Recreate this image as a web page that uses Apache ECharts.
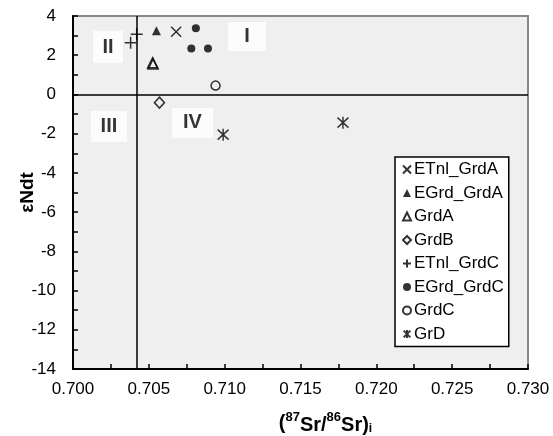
<!DOCTYPE html>
<html>
<head>
<meta charset="utf-8">
<script src="https://cdn.jsdelivr.net/npm/echarts@6/dist/echarts.min.js"></script>
<style>
  html, body { margin: 0; padding: 0; background: #fff; }
  #chart { width: 553px; height: 436px; }
</style>
</head>
<body>
<div id="chart"></div>
<script>
// data: [87Sr/86Sr initial, eNd(t)]
var etnlGrdA = [[0.7068, 3.2]];
var egrdGrdA = [[0.7055, 3.25]];
var grdA = [[0.70525, 1.62], [0.70528, 1.55]];
var grdB = [[0.7057, -0.42]];
var etnlGrdC = [[0.7042, 3.07], [0.7038, 2.64]];
var egrdGrdC = [[0.7081, 3.38], [0.7078, 2.34], [0.7089, 2.34]];
var grdC = [[0.7094, 0.45]];
var grD = [[0.7099, -2.05], [0.7178, -1.44]];

// quadrant labels
var quadNames = ['I', 'II', 'III', 'IV'];
var quadPos = [[0.71148, 2.96], [0.70231, 2.42], [0.70237, -1.63], [0.70788, -1.45]];

// axis ranges and reference lines
var xRange = [0.7, 0.73];
var yRange = [-14, 4];
var srLine = 0.7042;
var ndLine = 0;

var FONT = "'Liberation Sans', Arial, sans-serif";

// white boxes behind the quadrant numerals [w, h]
var quadBox = [[38, 29], [30, 32], [36, 31], [41, 30]];

var crossPath = 'path://M0,0L10,10M10,0L0,10';
var plusPath = 'path://M5,0L5,10M0,5L10,5';
var starPath = 'path://M0,0L10,10M10,0L0,10M5,-1L5,11';

function openStyle() {
  return { color: 'rgba(0,0,0,0)', borderColor: '#000', borderWidth: 1.5 };
}

var myChart = echarts.init(document.getElementById('chart'));

var option = {
  animation: false,
  backgroundColor: '#fff',
  textStyle: { fontFamily: FONT },
  grid: {
    left: 73, right: 25, top: 16, bottom: 67,
    containLabel: false,
    outerBoundsMode: 'none',
    show: true,
    backgroundColor: '#efefef',
    borderColor: '#888',
    borderWidth: 2
  },
  legend: {
    orient: 'vertical',
    left: 395, top: 157,
    backgroundColor: '#fff',
    borderColor: '#000',
    borderWidth: 1.5,
    borderRadius: 0,
    padding: [4, 5, 4, 7],
    itemWidth: 8, itemHeight: 8,
    itemGap: 6.5,
    textStyle: { fontFamily: FONT, fontSize: 17, color: '#000', lineHeight: 17, padding: [0, 0, 0, -2] },
    data: ['ETnl_GrdA', 'EGrd_GrdA', 'GrdA', 'GrdB', 'ETnl_GrdC', 'EGrd_GrdC', 'GrdC', 'GrD']
  },
  xAxis: {
    type: 'value',
    min: xRange[0], max: xRange[1], interval: 0.005,
    name: '({sup|87}{b|Sr/}{sup|86}{b|Sr)}{sub|i}',
    nameLocation: 'middle',
    nameGap: 42,
    nameMoveOverlap: false,
    nameTextStyle: {
      padding: [0, 0, 0, 50],
      rich: {
        b: { fontFamily: FONT, fontSize: 20, fontWeight: 'bold', color: '#000', lineHeight: 24, verticalAlign: 'bottom' },
        sup: { fontFamily: FONT, fontSize: 13, fontWeight: 'bold', color: '#000', lineHeight: 13, verticalAlign: 'top' },
        sub: { fontFamily: FONT, fontSize: 12, fontWeight: 'bold', color: '#000', lineHeight: 12, verticalAlign: 'bottom' }
      },
      fontFamily: FONT, fontSize: 20, fontWeight: 'bold', color: '#000'
    },
    axisLine: { onZero: false, lineStyle: { color: '#000', width: 2 } },
    axisTick: { inside: true, length: 5, lineStyle: { color: '#000', width: 1.5 } },
    minorTick: { show: true, splitNumber: 2, length: 5, lineStyle: { color: '#000', width: 1.5 } },
    splitLine: { show: false },
    axisLabel: {
      margin: 12, fontSize: 17, color: '#000', fontFamily: FONT,
      formatter: function (v) { return v.toFixed(3); }
    }
  },
  yAxis: {
    type: 'value',
    min: yRange[0], max: yRange[1], interval: 2,
    name: 'εNdt',
    nameLocation: 'middle',
    nameGap: 36,
    nameMoveOverlap: false,
    nameTextStyle: { fontFamily: FONT, fontSize: 19, fontWeight: 'bold', color: '#000' },
    axisLine: { onZero: false, lineStyle: { color: '#000', width: 2 } },
    axisTick: { inside: true, length: 5, lineStyle: { color: '#000', width: 1.5 } },
    minorTick: { show: true, splitNumber: 2, length: 5, lineStyle: { color: '#000', width: 1.5 } },
    splitLine: { show: false },
    axisLabel: { margin: 17, fontSize: 17, color: '#000', fontFamily: FONT }
  },
  series: [
    {
      name: 'quadrants', type: 'scatter', silent: true, symbolSize: 0, z: 1,
      data: quadNames.map(function (n, i) {
        return {
          value: quadPos[i], name: n,
          label: { width: quadBox[i][0], height: quadBox[i][1], lineHeight: quadBox[i][1] }
        };
      }),
      label: {
        show: true, position: 'inside', formatter: '{b}',
        align: 'center', verticalAlign: 'middle',
        fontFamily: FONT, fontSize: 20, fontWeight: 'bold', color: '#000',
        backgroundColor: '#fff', padding: 0
      },
      markLine: {
        silent: true, symbol: 'none', animation: false,
        label: { show: false },
        lineStyle: { color: '#000', width: 1.5, type: 'solid' },
        data: [
          [{ coord: [srLine, yRange[0]] }, { coord: [srLine, yRange[1]] }],
          [{ coord: [xRange[0], ndLine] }, { coord: [xRange[1], ndLine] }]
        ]
      }
    },
    { name: 'ETnl_GrdA', type: 'scatter', data: etnlGrdA, symbol: crossPath, symbolSize: 10, itemStyle: openStyle(), z: 3 },
    { name: 'EGrd_GrdA', type: 'scatter', data: egrdGrdA, symbol: 'triangle', symbolSize: 9, itemStyle: { color: '#000' }, z: 3 },
    { name: 'GrdA', type: 'scatter', data: grdA, symbol: 'triangle', symbolSize: 10, itemStyle: openStyle(), z: 3 },
    { name: 'GrdB', type: 'scatter', data: grdB, symbol: 'diamond', symbolSize: [10, 11], itemStyle: openStyle(), z: 3 },
    { name: 'ETnl_GrdC', type: 'scatter', data: etnlGrdC, symbol: plusPath, symbolSize: 12, itemStyle: openStyle(), z: 3 },
    { name: 'EGrd_GrdC', type: 'scatter', data: egrdGrdC, symbol: 'circle', symbolSize: 8, itemStyle: { color: '#000' }, z: 3 },
    { name: 'GrdC', type: 'scatter', data: grdC, symbol: 'circle', symbolSize: 9, itemStyle: openStyle(), z: 3 },
    { name: 'GrD', type: 'scatter', data: grD, symbol: starPath, symbolSize: [11, 12], itemStyle: openStyle(), z: 3 }
  ]
};

myChart.setOption(option);
window.addEventListener('resize', function () {
  myChart.resize();
});
</script>
</body>
</html>
